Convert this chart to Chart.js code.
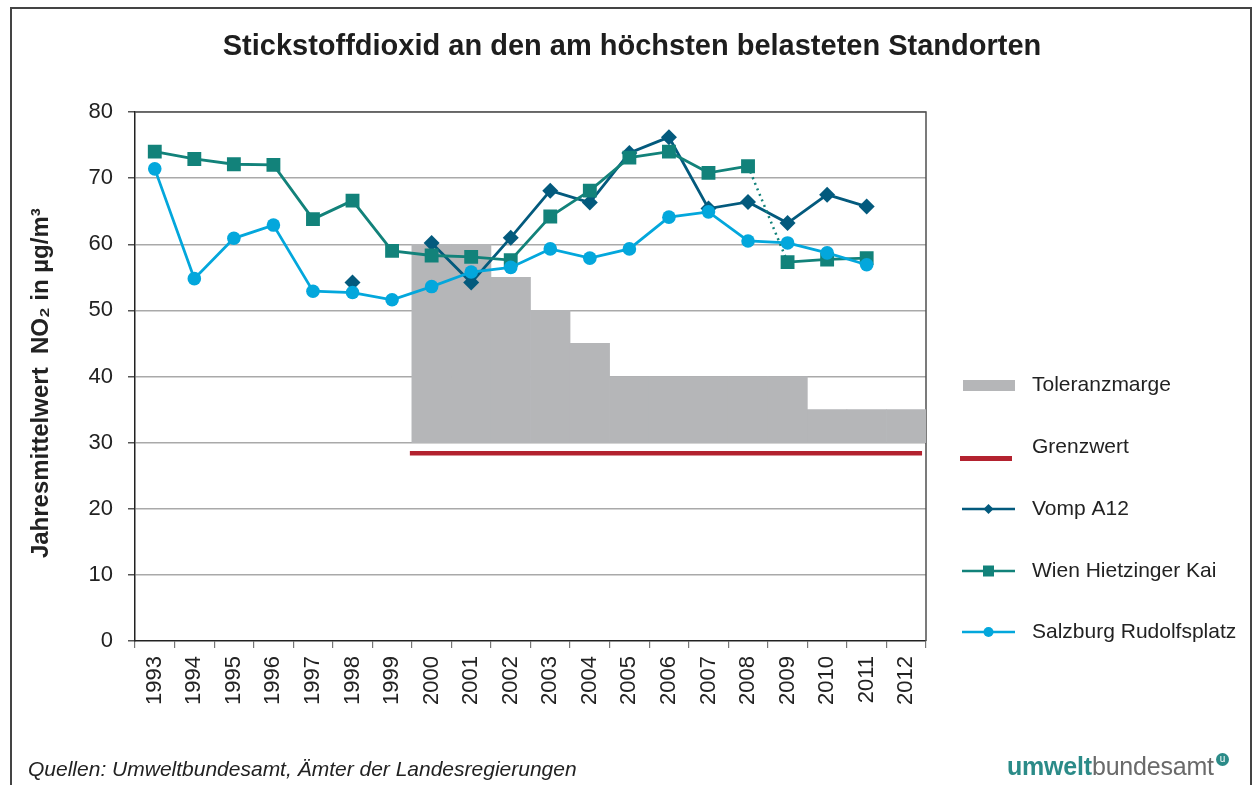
<!DOCTYPE html>
<html>
<head>
<meta charset="utf-8">
<script src="https://cdn.jsdelivr.net/npm/chart.js@4/dist/chart.umd.min.js"></script>
<style>
  body { margin: 0; background: #fff; }
  #wrap { position: relative; width: 1254px; height: 785px; overflow: hidden; font-family: "Liberation Sans", Arial, sans-serif; }
  #frame { position: absolute; left: 10px; top: 7px; width: 1242px; height: 820px; border: 2px solid #444; box-sizing: border-box; }
  #chart { position: absolute; left: 0; top: 0; }
  #title { position: absolute; left: 0; width: 1264px; top: 29px; text-align: center; font-size: 29px; font-weight: bold; color: #1e1e1e; white-space: nowrap; }
  #src { position: absolute; left: 28px; top: 757px; font-style: italic; font-size: 21px; color: #222; white-space: nowrap; }
  #logo { position: absolute; left: 1007px; top: 752px; font-size: 25px; white-space: nowrap; letter-spacing: -0.2px; }
  #logo .a { color: #2b8b88; font-weight: bold; }
  #logo .b { color: #6a6a6a; }
  #logo .u { display: inline-block; width: 13px; height: 13px; line-height: 12px; border-radius: 50%; background: #2b8b88; color: #fff; font-size: 10px; text-align: center; vertical-align: top; margin-left: 2px; margin-top: 1px; }
</style>
</head>
<body>
<div id="wrap">
  <div id="frame"></div>
  <canvas id="chart" width="1254" height="785"></canvas>
  <div id="title">Stickstoffdioxid an den am höchsten belasteten Standorten</div>
  <div id="src">Quellen: Umweltbundesamt, Ämter der Landesregierungen</div>
  <div id="logo"><span class="a">umwelt</span><span class="b">bundesamt</span><span class="u">u</span></div>
</div>
<script>
// values (µg/m³, annual means)
var years = ["1993", "1994", "1995", "1996", "1997", "1998", "1999", "2000", "2001", "2002",
             "2003", "2004", "2005", "2006", "2007", "2008", "2009", "2010", "2011", "2012"];
var yTicks = [0, 10, 20, 30, 40, 50, 60, 70, 80];

var toleranzBase = 30;
var toleranzTop = [null, null, null, null, null, null, null, 60, 60, 55,
                   50, 45, 40, 40, 40, 40, 40, 35, 35, 35];

// Grenzwert drawn as a bar across the margin years (x in years on a hidden axis)
var grenzX = [1999.45, 2012.4];
var grenzY = [28.4, 28.4];

var vomp = [null, null, null, null, null, 54.2, null, 60.2, 54.2, 61.0,
            68.1, 66.3, 73.8, 76.2, 65.4, 66.4, 63.2, 67.5, 65.7, null];
var wien = [74.0, 72.9, 72.1, 72.0, 63.8, 66.6, 59.0, 58.3, 58.1, 57.6,
            64.2, 68.1, 73.1, 74.0, 70.8, 71.8, 57.3, 57.7, 57.9, null];
var salzburg = [71.4, 54.8, 60.9, 62.9, 52.9, 52.7, 51.6, 53.6, 55.8, 56.5,
                59.3, 57.9, 59.3, 64.1, 64.9, 60.5, 60.2, 58.7, 56.9, null];

var FONT = '"Liberation Sans", Arial, sans-serif';
var C_TOL = "#b5b6b8", C_GRENZ = "#b3222f", C_VOMP = "#035a7d", C_WIEN = "#12827a", C_SALZ = "#03a7dc";

// dark frame line on the top and right of the plot area
var plotFrame = {
  id: "plotFrame",
  beforeDatasetsDraw: function (chart) {
    var a = chart.chartArea, ctx = chart.ctx;
    ctx.save();
    ctx.strokeStyle = "#505050"; ctx.lineWidth = 1.5;
    ctx.beginPath();
    ctx.moveTo(a.left, a.top); ctx.lineTo(a.right, a.top); ctx.lineTo(a.right, a.bottom);
    ctx.stroke();
    ctx.restore();
  }
};

function marker(ctx, style, x, y, r, color) {
  ctx.fillStyle = color;
  ctx.beginPath();
  if (style === "rectRot") { ctx.moveTo(x, y - r); ctx.lineTo(x + r, y); ctx.lineTo(x, y + r); ctx.lineTo(x - r, y); ctx.closePath(); }
  else if (style === "rect") { ctx.rect(x - r, y - r, 2 * r, 2 * r); }
  else { ctx.arc(x, y, r, 0, Math.PI * 2); }
  ctx.fill();
}

// legend on the right, like the Excel original
var sideLegend = {
  id: "sideLegend",
  afterDraw: function (chart) {
    var ctx = chart.ctx, ds = chart.data.datasets;
    var rows = [385, 447, 509, 571, 632];
    ctx.save();
    ctx.font = "21px " + FONT;
    ctx.textBaseline = "middle";
    ds.forEach(function (d, i) {
      var y = rows[i];
      if (d.type === "bar") {
        ctx.fillStyle = d.backgroundColor;
        ctx.fillRect(963, y - 5, 52, 11);
      } else if (d.pointRadius === 0) {
        ctx.fillStyle = d.borderColor;
        ctx.fillRect(960, y + 9, 52, 5);
      } else {
        ctx.strokeStyle = d.borderColor; ctx.lineWidth = 2.5;
        ctx.beginPath(); ctx.moveTo(962, y); ctx.lineTo(1015, y); ctx.stroke();
        var r = d.pointStyle === "rect" ? 5.5 : 5;
        marker(ctx, d.pointStyle, 988.5, y, r, d.borderColor);
      }
      ctx.fillStyle = "#222";
      ctx.fillText(d.label, 1032, y);
    });
    ctx.restore();
  }
};

new Chart(document.getElementById("chart"), {
  type: "bar",
  data: {
    labels: years,
    datasets: [
      { type: "bar", label: "Toleranzmarge", order: 5, grouped: false,
        data: toleranzTop.map(function (v) { return v == null ? null : [toleranzBase, v]; }),
        backgroundColor: C_TOL, categoryPercentage: 1, barPercentage: 1, xAxisID: "x" },
      { type: "line", label: "Grenzwert", order: 4, xAxisID: "xg",
        data: grenzX.map(function (x, i) { return { x: x, y: grenzY[i] }; }),
        borderColor: C_GRENZ, borderWidth: 4.5, pointRadius: 0, borderCapStyle: "butt" },
      { type: "line", label: "Vomp A12", order: 3, xAxisID: "x", data: vomp,
        borderColor: C_VOMP, backgroundColor: C_VOMP, borderWidth: 2.8, tension: 0,
        pointStyle: "rectRot", pointRadius: 8, pointBorderWidth: 0, pointBackgroundColor: C_VOMP },
      { type: "line", label: "Wien Hietzinger Kai", order: 2, xAxisID: "x", data: wien,
        borderColor: C_WIEN, backgroundColor: C_WIEN, borderWidth: 2.8, tension: 0,
        pointStyle: "rect", pointRadius: 9.8, pointBorderWidth: 0, pointBackgroundColor: C_WIEN,
        segment: {
          borderDash: function (c) { return c.p0DataIndex === 15 ? [2, 4] : undefined; },
          borderWidth: function (c) { return c.p0DataIndex === 15 ? 2.5 : undefined; }
        } },
      { type: "line", label: "Salzburg Rudolfsplatz", order: 1, xAxisID: "x", data: salzburg,
        borderColor: C_SALZ, backgroundColor: C_SALZ, borderWidth: 2.8, tension: 0,
        pointStyle: "circle", pointRadius: 6.8, pointBorderWidth: 0, pointBackgroundColor: C_SALZ }
    ]
  },
  options: {
    responsive: false,
    animation: false,
    layout: { padding: { left: 0, right: 328, top: 112, bottom: 0 } },
    plugins: {
      legend: { display: false },
      tooltip: { enabled: false }
    },
    scales: {
      x: {
        type: "category", offset: true,
        grid: { offset: true, drawOnChartArea: false, tickLength: 7, color: "#777", lineWidth: 1.2 },
        border: { color: "#222", width: 1.5 },
        ticks: { minRotation: 90, maxRotation: 90, autoSkip: false, padding: 8, color: "#222",
                 font: { family: FONT, size: 22 } },
        afterFit: function (s) { s.height = 144; }
      },
      xg: {
        type: "linear", position: "top", min: 1992.5, max: 2012.5, offset: false, grace: 0,
        grid: { display: false, offset: false }, border: { display: false }, ticks: { display: false },
        afterFit: function (s) { s.height = 0; }
      },
      y: {
        min: 0, max: 80,
        afterBuildTicks: function (s) { s.ticks = yTicks.map(function (v) { return { value: v }; }); },
        grid: { color: function (c) { return c.tick && c.tick.value === 0 ? "rgba(0,0,0,0)" : "#a9a9a9"; },
                tickColor: "#555", lineWidth: 1.5, tickLength: 7 },
        border: { color: "#222", width: 1.5 },
        ticks: { padding: 15, color: "#222", font: { family: FONT, size: 22 } },
        title: { display: true, text: "Jahresmittelwert  NO₂ in µg/m³  ", color: "#222",
                 font: { family: FONT, size: 24, weight: "bold" }, padding: { top: 27, bottom: 0 } },
        afterFit: function (s) { s.width = 135; }
      }
    }
  },
  plugins: [plotFrame, sideLegend]
});
</script>
</body>
</html>
